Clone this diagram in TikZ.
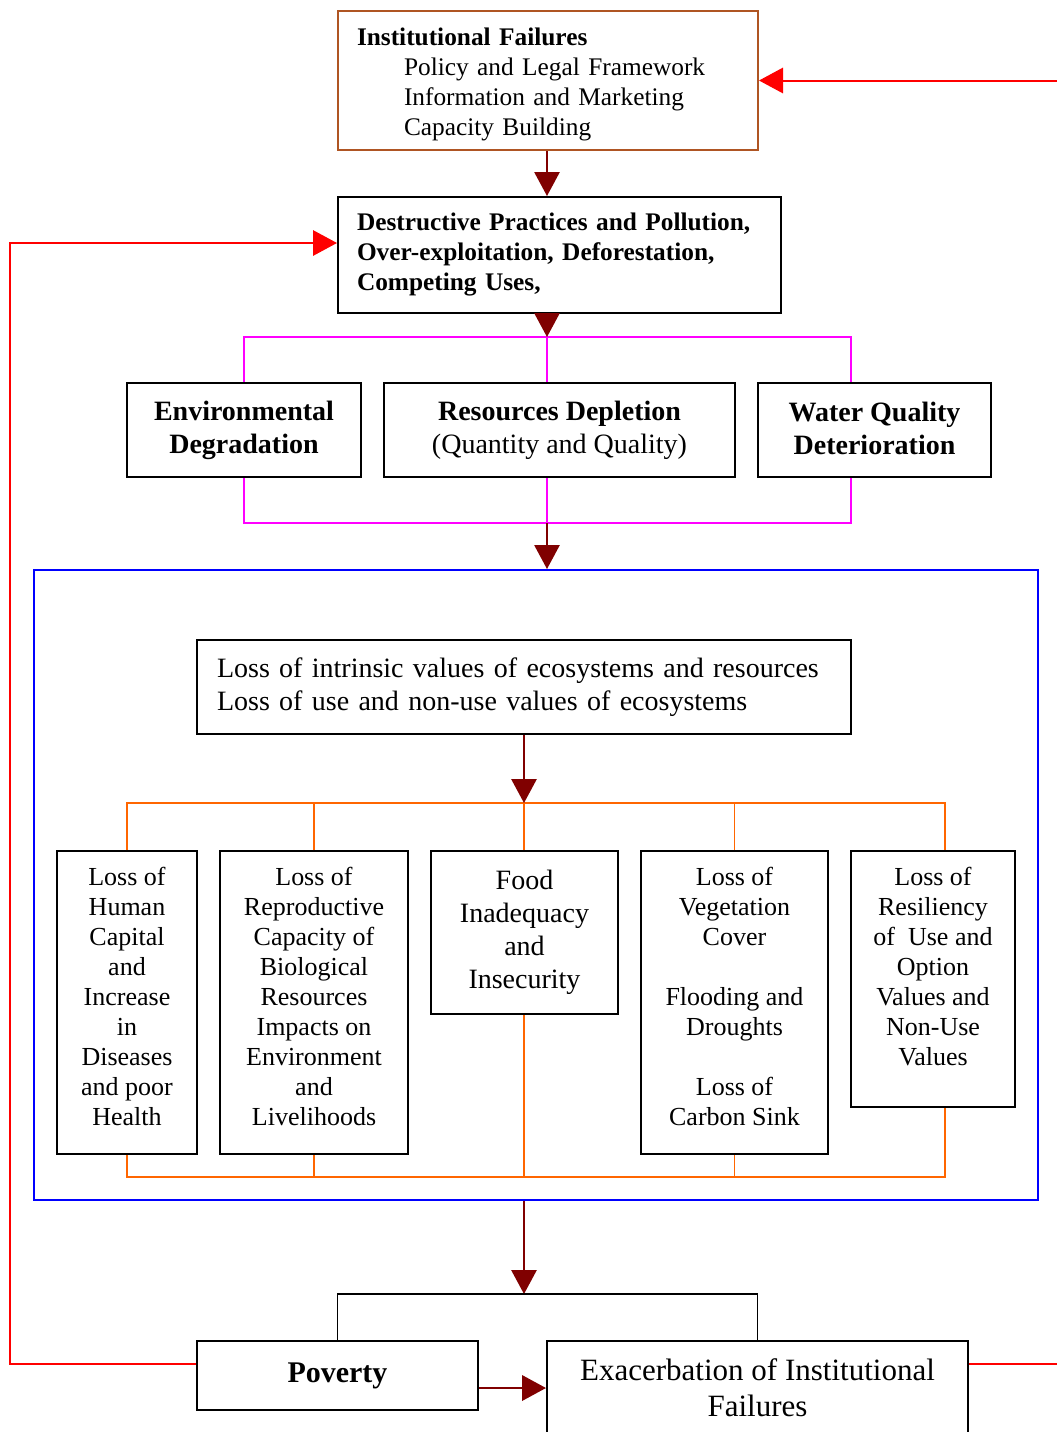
\documentclass[tikz,border=0pt]{standalone}
\usepackage{fontspec}
\setmainfont{Liberation Serif}
\usetikzlibrary{arrows.meta}
\definecolor{dred}{RGB}{128,0,0}
\definecolor{ifbrown}{RGB}{175,85,35}
\definecolor{mag}{RGB}{255,0,255}
\definecolor{orng}{RGB}{255,102,0}
\newcommand\fsA{\fontsize{19.5}{22.5}\selectfont}
\newcommand\fsT{\fontsize{19}{22.5}\selectfont}
\newcommand\fsB{\fontsize{21}{24.75}\selectfont}
\newcommand\fsC{\fontsize{23.25}{27}\selectfont}
\begin{document}
\begin{tikzpicture}[x=0.75pt,y=-0.75pt,
  box/.style={draw=black, line width=1.5pt, inner sep=0pt, align=center},
  txt/.style={inner sep=0pt, align=center},
  darr/.style={draw=dred, line width=1.3pt, -{Triangle[width=19pt,length=18pt]}},
  rarr/.style={draw=red, line width=1.5pt, -{Triangle[width=19pt,length=18pt]}},
  magl/.style={draw=mag, line width=1.4pt},
  orl/.style={draw=orng, line width=1.4pt},
  blkl/.style={draw=black, line width=1.4pt}]
\useasboundingbox (0,0) rectangle (1057,1432);

% container
\node[draw=blue, line width=1.5pt, minimum width=1004*0.75pt, minimum height=630*0.75pt, inner sep=0pt] (Blue) at (536,885) {};

% top boxes
\node[box, draw=ifbrown, minimum width=420*0.75pt, minimum height=139*0.75pt] (IF) at (548,80.5) {};
\node[txt, text width=382*0.75pt, align=left, font=\fsT] (IFt) at (548,84)
  {\textbf{Institutional Failures}\\\hspace*{35.25pt}Policy and Legal Framework\\\hspace*{35.25pt}Information and Marketing\\\hspace*{35.25pt}Capacity Building};
\node[box, minimum width=443*0.75pt, minimum height=116*0.75pt, text width=405*0.75pt, align=left, inner xsep=19*0.75pt, font=\fsT\bfseries] (Dest) at (559.5,255)
  {Destructive Practices and Pollution,\\Over-exploitation, Deforestation,\\Competing Uses,};

\node[box, minimum width=234*0.75pt, minimum height=94*0.75pt, font=\fsB\bfseries] (Env) at (244,430) {Environmental\\Degradation};
\node[box, minimum width=351*0.75pt, minimum height=94*0.75pt, font=\fsB] (Res) at (559.5,430) {\textbf{Resources Depletion}\\(Quantity and Quality)};
\node[box, minimum width=233*0.75pt, minimum height=94*0.75pt] (Water) at (874.5,430) {};
\node[txt, font=\fsB\bfseries] (Watert) at (874.5,428) {Water Quality\\Deterioration};

\node[box, minimum width=654*0.75pt, minimum height=94*0.75pt, text width=614*0.75pt, align=left, inner xsep=20*0.75pt, font=\fsB] (Intr) at (524,687)
  {Loss of intrinsic values of ecosystems and resources\\Loss of use and non-use values of ecosystems};

\node[box, minimum width=140*0.75pt, minimum height=303*0.75pt] (B1) at (127,1002.5) {};
\node[txt, font=\fsA] (B1t) at (127,996.5)
  {Loss of\\Human\\Capital\\and\\Increase\\in\\Diseases\\and poor\\Health};
\node[box, minimum width=188*0.75pt, minimum height=303*0.75pt] (B2) at (314,1002.5) {};
\node[txt, font=\fsA] (B2t) at (314,996.5)
  {Loss of\\Reproductive\\Capacity of\\Biological\\Resources\\Impacts on\\Environment\\and\\Livelihoods};
\node[box, minimum width=187*0.75pt, minimum height=163*0.75pt, font=\fsB] (B3) at (524.5,932.5)
  {Food\\Inadequacy\\and\\Insecurity};
\node[box, minimum width=187*0.75pt, minimum height=303*0.75pt] (B4) at (734.5,1002.5) {};
\node[txt, font=\fsA] (B4t) at (734.5,996.5)
  {Loss of\\Vegetation\\Cover\\[22.5pt]Flooding and\\Droughts\\[22.5pt]Loss of\\Carbon Sink};
\node[box, minimum width=164*0.75pt, minimum height=256*0.75pt] (B5) at (933,979) {};
\node[txt, font=\fsA] (B5t) at (933,967)
  {Loss of\\Resiliency\\of~ Use and\\Option\\Values and\\Non-Use\\Values};

\node[box, minimum width=281*0.75pt, minimum height=69*0.75pt, font=\fontsize{22.5}{27}\selectfont\bfseries] (Pov) at (337.5,1375.5) {Poverty};
\node[box, minimum width=421*0.75pt, minimum height=94*0.75pt, font=\fsC] (Exac) at (757.5,1388) {Exacerbation of Institutional\\Failures};

% coordinates
\coordinate (m1) at (547,337);
\coordinate (mR) at (851,337);
\coordinate (m2) at (547,523);
\coordinate (o1) at (524,803);
\coordinate (oR) at (945,803);
\coordinate (o2) at (524,1177);
\coordinate (k1) at (524,1294);
\coordinate (r1) at (10,1364);
\coordinate (r2) at (10,243);
\coordinate (r3) at (1066,1364);

% connectors
\draw[darr] (IF.south -| m1) -- (Dest.north -| m1);
\draw[magl] (Env.north) |- (mR) -- (mR |- Water.north);
\draw[magl] (m1) -- (m1 |- Res.north);
\draw[darr] (Dest.south -| m1) -- (m1);
\draw[magl] (Env.south) |- (m2 -| mR) -- (mR |- Water.south);
\draw[magl] (m1 |- Res.south) -- (m2);
\draw[darr] (m2) -- (m2 |- Blue.north);

\draw[orl] (B1.north) |- (oR) -- (oR |- B5.north);
\draw[orl] (B2.north) -- (B2.north |- o1);
\draw[orl] (o1) -- (o1 |- B3.north);
\draw[orl] (B4.north) -- (B4.north |- o1);
\draw[darr] (Intr.south) -- (o1);
\draw[orl] (B1.south) |- (o2 -| oR) -- (oR |- B5.south);
\draw[orl] (B2.south) -- (B2.south |- o2);
\draw[orl] (o1 |- B3.south) -- (o2);
\draw[orl] (B4.south) -- (B4.south |- o2);

\draw[darr] (o1 |- Blue.south) -- (k1);
\draw[blkl] (Pov.north) |- (k1) -| (Exac.north);
\draw[darr, line width=2pt] (Pov.east |- Exac.west) -- (Exac.west);

\draw[rarr] (Pov.west |- r1) -- (r1) -- (r2) -- (Dest.west |- r2);
\draw[rarr] (Exac.east |- r1) -- (r3) |- (IF.east);
\end{tikzpicture}
\end{document}
